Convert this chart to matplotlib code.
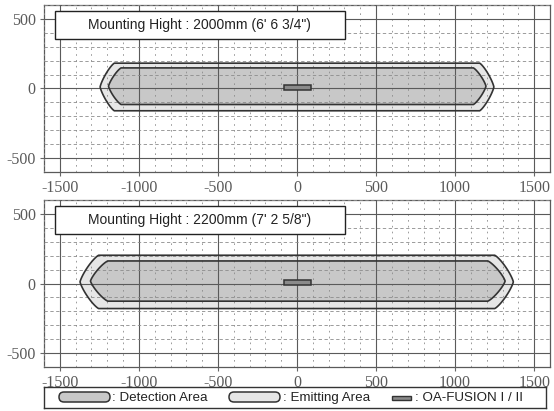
import numpy as np
from matplotlib import pyplot as plt
from matplotlib.patches import Polygon, Rectangle, FancyBboxPatch

# panel data (mm)
panel_titles = ["Mounting Hight : 2000mm (6' 6 3/4\")", "Mounting Hight : 2200mm (7' 2 5/8\")"]
emit_x = [(-1245, 1245), (-1372, 1368)]
emit_y = [(-160, 182), (-180, 203)]
emit_chamfer = [90, 118]
detect_x = [(-1192, 1195), (-1306, 1316)]
detect_y = [(-115, 148), (-127, 162)]
detect_chamfer = [80, 110]
sensor_x = (-85, 88)
sensor_y = (-10, 23)

x_ticks = [-1500, -1000, -500, 0, 500, 1000, 1500]
x_labels = ["-1500", "-1000", "-500", "0", "500", "1000", "1500"]
y_ticks = [-500, 0, 500]
y_labels = ["-500", "0", "500"]
legend_labels = [": Detection Area", ": Emitting Area", ": OA-FUSION I / II"]

DETECT_FILL = "#c8c8c8"
EMIT_FILL = "#e6e6e6"
EDGE = "#333333"
SANS = "Liberation Sans"
SERIF = "Liberation Serif"


def capsule(xl, xr, yb, yt, c, n=1.25, npts=40):
    ym = (yt + yb) / 2
    h = (yt - yb) / 2
    t = np.linspace(-np.pi / 2, np.pi / 2, npts)
    ct = np.abs(np.cos(t)) ** (2 / n)
    st = np.sign(np.sin(t)) * np.abs(np.sin(t)) ** (2 / n)
    right = np.column_stack([(xr - c) + c * ct, ym + h * st])
    left = np.column_stack([(xl + c) - c * ct[::-1], ym + h * st[::-1]])
    return np.vstack([right, left])


fig = plt.figure(figsize=(5.54, 4.11), dpi=100)
W, H = 554, 411
panel_px = [(5, 172), (200, 367)]  # top, bottom of each frame in pixels

for i, (top, bot) in enumerate(panel_px):
    ax = fig.add_axes([44 / W, 1 - bot / H, 506 / W, (bot - top) / H])
    ax.set_xlim(-1600, 1600)
    ax.set_ylim(-600, 600)

    ax.set_xticks(x_ticks)
    ax.set_xticklabels(x_labels)
    ax.set_yticks(y_ticks)
    ax.set_yticklabels(y_labels)
    ax.set_xticks(np.arange(-1600, 1601, 100), minor=True)
    ax.set_yticks(np.arange(-600, 601, 100), minor=True)
    ax.tick_params(which="minor", length=0)
    ax.tick_params(which="major", length=3, width=0.8, color="#666666", pad=3)
    for lab in ax.get_xticklabels() + ax.get_yticklabels():
        lab.set_fontfamily(SERIF)
        lab.set_fontsize(11.5)
        lab.set_color("#5a5a5a")

    ax.set_axisbelow(False)
    ax.grid(which="major", color="#5a5a5a", lw=0.8, ls="-")
    ax.xaxis.grid(which="minor", color="#8c8c8c", lw=0.6, ls=(0, (2, 5)))
    ax.yaxis.grid(which="minor", color="#8c8c8c", lw=0.6, ls=(0, (4, 3)))
    for s in ax.spines.values():
        s.set_color("#5a5a5a")
        s.set_linewidth(0.9)

    emit = capsule(emit_x[i][0], emit_x[i][1], emit_y[i][0], emit_y[i][1], emit_chamfer[i])
    det = capsule(detect_x[i][0], detect_x[i][1], detect_y[i][0], detect_y[i][1], detect_chamfer[i])
    ax.add_patch(Polygon(emit, closed=True, facecolor=EMIT_FILL, edgecolor="none", zorder=1))
    ax.add_patch(Polygon(det, closed=True, facecolor=DETECT_FILL, edgecolor="none", zorder=1.5))
    ax.add_patch(Polygon(emit, closed=True, facecolor="none", edgecolor=EDGE, lw=1.2, zorder=3))
    ax.add_patch(Polygon(det, closed=True, facecolor="none", edgecolor=EDGE, lw=1.2, zorder=3))
    ax.add_patch(Rectangle((sensor_x[0], sensor_y[0]), sensor_x[1] - sensor_x[0], sensor_y[1] - sensor_y[0],
                           facecolor="#8a8a8a", edgecolor=EDGE, lw=1.1, zorder=4))

    # title box
    ax.add_patch(Rectangle((-1533, 358), 1838, 202, facecolor="white", edgecolor="#222222", lw=1.0, zorder=5))
    ax.text(-614, 459, panel_titles[i], family=SANS, fontsize=10, color="#222222",
            ha="center", va="center", zorder=6)

# legend strip (pixel coordinates)
lg = fig.add_axes([44 / W, 1 - 408 / H, 502 / W, 21 / H])
lg.set_xlim(44, 546)
lg.set_ylim(408, 387)
lg.set_xticks([])
lg.set_yticks([])
for s in lg.spines.values():
    s.set_color("#333333")
    s.set_linewidth(1.0)
lg.add_patch(FancyBboxPatch((59, 392), 51, 10, boxstyle="round,pad=0,rounding_size=5",
                            facecolor=DETECT_FILL, edgecolor=EDGE, lw=1.1))
lg.add_patch(FancyBboxPatch((229, 392), 51, 10, boxstyle="round,pad=0,rounding_size=5",
                            facecolor=EMIT_FILL, edgecolor=EDGE, lw=1.1))
lg.add_patch(Rectangle((392, 396), 19, 4, facecolor="#8a8a8a", edgecolor=EDGE, lw=1.0))
for x, lab in zip([112, 283, 415], legend_labels):
    lg.text(x, 397.5, lab, family=SANS, fontsize=9.6, color="#222222", ha="left", va="center")

plt.savefig("out.png", dpi=100)
